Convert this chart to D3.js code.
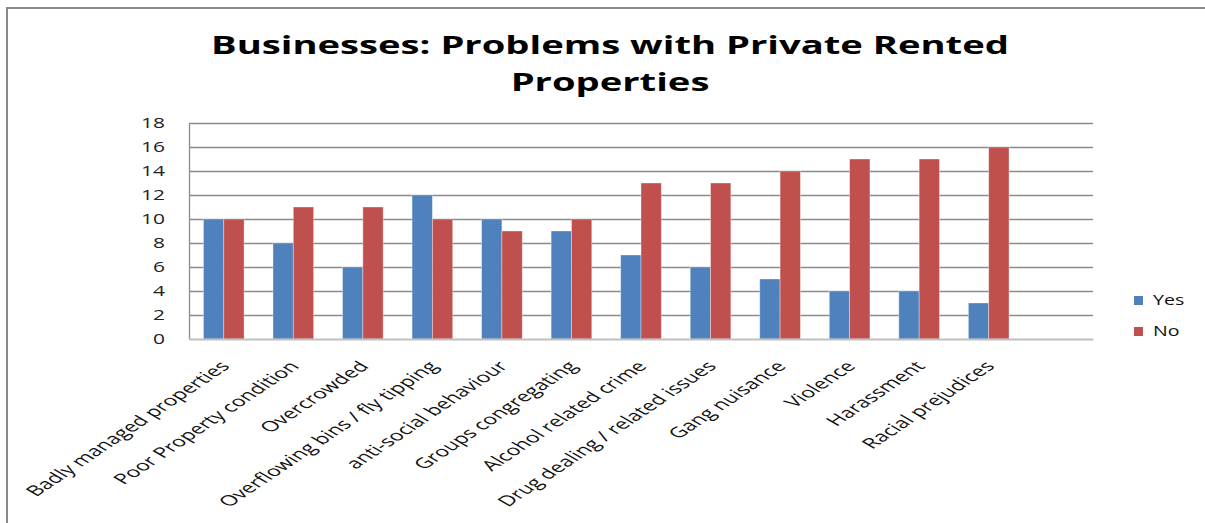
<!DOCTYPE html>
<html>
<head>
<meta charset="utf-8">
<script src="https://cdn.jsdelivr.net/npm/d3@7"></script>
<style>
  body { margin: 0; background: #fff; }
  svg { display: block; }
  text { font-family: "Open Sans", "DejaVu Sans", sans-serif; }
</style>
</head>
<body>
<script>
// Survey answers per problem type
const categories = [
  "Badly managed properties",
  "Poor Property condition",
  "Overcrowded",
  "Overflowing bins / fly tipping",
  "anti-social behaviour",
  "Groups congregating",
  "Alcohol related crime",
  "Drug dealing /  related issues",
  "Gang nuisance",
  "Violence",
  "Harassment",
  "Racial prejudices"
];
const yesValues = [10, 8, 6, 12, 10, 9, 7, 6, 5, 4, 4, 3];
const noValues  = [10, 11, 11, 10, 9, 10, 13, 13, 14, 15, 15, 16];
const seriesNames = ["Yes", "No"];
const seriesColors = ["#4F81BD", "#C0504D"];
const yTicks = [0, 2, 4, 6, 8, 10, 12, 14, 16, 18];
const titleLines = ["Businesses: Problems with Private Rented", "Properties"];

const W = 1205, H = 523;
const SX = 1.5;      // horizontal widening of the small text
const SX_CAT = 1.6;  // widening of the slanted category labels
const CAT_ANGLE = -47;
const plot = { left: 189, right: 1093, top: 123, bottom: 339 };

const svg = d3.select("body").append("svg")
  .attr("width", W).attr("height", H);

// frame
svg.append("path")
  .attr("d", `M7,${H} L7,8 L${W},8`)
  .attr("fill", "none").attr("stroke", "#8a8a8a").attr("stroke-width", 2);

// title
const title = svg.append("g");
const tl = titleLines.map(t => title.append("text")
  .attr("text-anchor", "middle")
  .attr("font-size", 25).attr("font-weight", 700).attr("fill", "#000")
  .text(t));
const w0 = tl[0].node().getComputedTextLength();
const tScale = 798 / w0;
tl.forEach((t, i) => t.attr("transform", `translate(610,${i === 0 ? 54 : 91}) scale(${tScale},1)`));

// scales (one trailing empty slot after the last category)
const slotCount = categories.length + 1;
const x0 = d3.scaleBand().domain(d3.range(slotCount)).range([plot.left, plot.right]).padding(0);
const x1 = d3.scaleBand().domain(seriesNames).range([0, x0.bandwidth()]).paddingInner(0).paddingOuter(0.71);
const y = d3.scaleLinear().domain([0, 18]).range([plot.bottom, plot.top]);

// gridlines
const grid = svg.append("g").attr("transform", `translate(${plot.left},0)`)
  .call(d3.axisLeft(y).tickValues(yTicks.filter(t => t > 0)).tickSize(-(plot.right - plot.left)).tickFormat(""));
grid.select(".domain").remove();
grid.selectAll("line").attr("stroke", "#8a8a8a").attr("stroke-width", 1.3);

// y axis labels
const yAxis = svg.append("g").attr("transform", `translate(${plot.left},0)`)
  .call(d3.axisLeft(y).tickValues(yTicks).tickSize(0).tickPadding(16));
yAxis.select(".domain").attr("stroke", "#8a8a8a").attr("stroke-width", 1.3);
yAxis.selectAll("text")
  .attr("font-size", 14).attr("fill", "#222")
  .attr("font-family", "Open Sans, sans-serif")
  .attr("transform", `scale(${SX},1)`);

// bars
const rows = categories.map((c, i) => ({ i, values: [yesValues[i], noValues[i]] }));
const groups = svg.append("g").selectAll("g").data(rows).join("g")
  .attr("transform", d => `translate(${x0(d.i)},0)`);
groups.selectAll("rect")
  .data(d => d.values.map((v, k) => ({ series: seriesNames[k], v, k })))
  .join("rect")
  .attr("x", d => x1(d.series))
  .attr("y", d => y(d.v))
  .attr("width", x1.bandwidth())
  .attr("height", d => y(0) - y(d.v))
  .attr("fill", d => seriesColors[d.k])
  .attr("stroke", "rgba(255,255,255,0.45)").attr("stroke-width", 0.8);

// x axis
const xAxis = svg.append("g").attr("transform", `translate(0,${plot.bottom})`)
  .call(d3.axisBottom(x0).tickSize(0).tickFormat(i => categories[i] || ""));
xAxis.select(".domain").attr("stroke", "#bfbfbf").attr("stroke-width", 2);
xAxis.selectAll("text")
  .attr("font-size", 14.5).attr("fill", "#111")
  .attr("font-family", "Open Sans, sans-serif")
  .attr("text-anchor", "end")
  .attr("x", 0).attr("y", 0).attr("dy", 0)
  .attr("transform", `translate(7,28) scale(${SX_CAT},1) rotate(${CAT_ANGLE})`);

// legend
const legend = svg.append("g");
seriesNames.forEach((name, k) => {
  const yy = 296 + k * 31;
  legend.append("rect").attr("x", 1134).attr("y", yy).attr("width", 9).attr("height", 9)
    .attr("fill", seriesColors[k]);
  legend.append("text")
    .attr("transform", `translate(1153,${yy + 9}) scale(${SX * 0.9},1)`)
    .attr("font-size", 14.5).attr("fill", "#111")
    .text(name);
});
</script>
</body>
</html>
